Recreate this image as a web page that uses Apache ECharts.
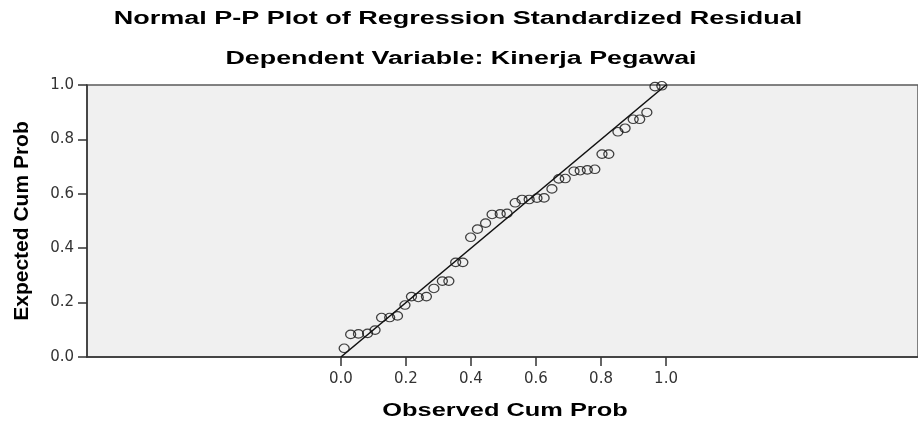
<!DOCTYPE html>
<html>
<head>
<meta charset="utf-8">
<title>Normal P-P Plot</title>
<script src="https://cdn.jsdelivr.net/npm/echarts@6.0.0/dist/echarts.min.js"></script>
<style>
    html, body { margin: 0; padding: 0; background: #fff; }
    #chart { width: 918px; height: 421px; }
</style>
</head>
<body>
<div id="chart"></div>
<script>
// observed / expected cum prob
const observed = [0.010, 0.030, 0.054, 0.082, 0.105, 0.125, 0.150, 0.174, 0.197, 0.217,
    0.238, 0.263, 0.286, 0.312, 0.332, 0.353, 0.375, 0.399, 0.420, 0.445,
    0.465, 0.490, 0.511, 0.536, 0.557, 0.579, 0.603, 0.625, 0.649, 0.670,
    0.690, 0.717, 0.736, 0.758, 0.781, 0.803, 0.824, 0.852, 0.874, 0.899,
    0.919, 0.941, 0.966, 0.987];
const expected = [0.032, 0.083, 0.085, 0.087, 0.099, 0.145, 0.145, 0.151, 0.191, 0.222,
    0.219, 0.222, 0.252, 0.279, 0.279, 0.348, 0.348, 0.440, 0.470, 0.492,
    0.524, 0.526, 0.528, 0.567, 0.579, 0.579, 0.584, 0.585, 0.618, 0.655,
    0.656, 0.683, 0.685, 0.688, 0.690, 0.746, 0.746, 0.828, 0.841, 0.874,
    0.874, 0.899, 0.994, 0.997];
const diagonal = [[0, 0], [1, 1]];
const xTicks = [0, 0.2, 0.4, 0.6, 0.8, 1.0];

const titleText = "Normal P-P Plot of Regression Standardized Residual";
const subText = "Dependent Variable: Kinerja Pegawai";
const xName = "Observed Cum Prob";
const yName = "Expected Cum Prob";

const myChart = echarts.init(document.getElementById("chart"));

function initChart() {
    const points = observed.map((v, i) => [v, expected[i]]);
    // the picture is stretched sideways, so the headings get a scaleX
    const boldText = (text, x, y, sx) => ({
        type: "text",
        x: x,
        y: y,
        scaleX: sx,
        style: {
            text: text,
            fontFamily: "Liberation Sans",
            fontSize: 18,
            fontWeight: "bold",
            fill: "#000",
            align: "center",
            verticalAlign: "middle"
        }
    });
    const option = {
        animation: false,
        graphic: [
            boldText(titleText, 458, 19, 1.5),
            boldText(subText, 461, 59, 1.49),
            boldText(xName, 505, 411, 1.41)
        ],
        grid: {
            left: 87,
            right: -3,
            top: 85,
            bottom: 64,
            show: true,
            backgroundColor: "#f0f0f0",
            borderColor: "#5a5a5a",
            borderWidth: 1.5
        },
        xAxis: {
            type: "value",
            min: -0.781,
            max: 1.775,
            splitLine: { show: false },
            axisLine: { onZero: false, lineStyle: { color: "#333", width: 1.5 } },
            axisTick: {
                customValues: xTicks,
                length: 9,
                lineStyle: { color: "#333", width: 1.5 }
            },
            axisLabel: {
                customValues: xTicks,
                margin: 15,
                color: "#333",
                fontFamily: "DejaVu Sans",
                fontSize: 15,
                formatter: (v) => v.toFixed(1)
            }
        },
        yAxis: {
            type: "value",
            min: 0,
            max: 1,
            interval: 0.2,
            name: yName,
            nameLocation: "middle",
            nameRotate: 90,
            nameGap: 54,
            nameTextStyle: {
                color: "#000",
                fontFamily: "Liberation Sans",
                fontSize: 21,
                fontWeight: "bold"
            },
            splitLine: { show: false },
            axisLine: { show: true, onZero: false, lineStyle: { color: "#333", width: 1.5 } },
            axisTick: { show: true, length: 9, lineStyle: { color: "#333", width: 1.5 } },
            axisLabel: {
                margin: 13,
                color: "#333",
                fontFamily: "DejaVu Sans",
                fontSize: 15,
                formatter: (v) => v.toFixed(1)
            }
        },
        series: [
            {
                type: "line",
                data: diagonal,
                symbol: "none",
                lineStyle: { color: "#111", width: 1.6 },
                z: 2
            },
            {
                type: "scatter",
                data: points,
                symbol: "circle",
                symbolSize: [10, 8.5],
                itemStyle: {
                    color: "rgba(0,0,0,0)",
                    borderColor: "#111",
                    borderWidth: 1.2
                },
                z: 3
            }
        ]
    };
    myChart.setOption(option);
}

initChart();
</script>
</body>
</html>
